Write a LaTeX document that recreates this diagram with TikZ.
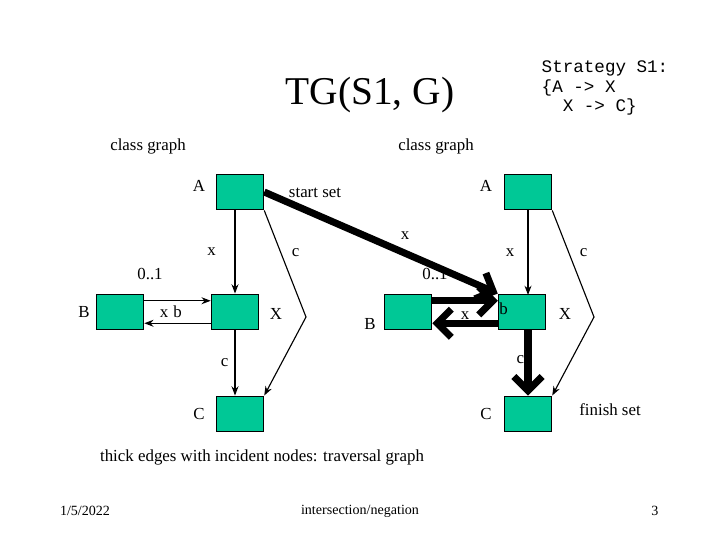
\documentclass[tikz,border=0pt]{standalone}
\usepackage{fontspec}
\setmainfont{Liberation Serif}
\newfontfamily\monofont{Liberation Mono}
\usetikzlibrary{arrows.meta}
\begin{document}
\begin{tikzpicture}[x=0.025cm, y=-0.025cm, >=Stealth, thick,
	cls node/.style={rectangle, draw, line width=1.2pt, fill=green!60!cyan!80!black!90, minimum width=1.17cm, minimum height=0.88cm, inner sep=0pt},
	lbl/.style={font=\fontsize{12}{14}\selectfont},
	fat/.style={line width=5pt, -{Straight Barb[length=10pt,width=20pt]}}]
	\useasboundingbox (0,0) rectangle (720,540);
	\definecolor{boxfill}{RGB}{0,200,150}
	\tikzset{cls node/.append style={fill=boxfill}}
	
	% Titles
	\node (title) at (370,95) {\fontsize{28}{30}\selectfont TG(S1, G)};
	\node[align=left, font=\monofont\fontsize{12.5}{14}\selectfont] (strat) at (605,88) {Strategy S1:\\\{A -> X\\\ \ X -> C\}};
	\node[lbl] (cg1) at (148,146) {class graph};
	\node[lbl] (cg2) at (436,146) {class graph};
	
	% Left class graph
	\node[cls node] (A1) at (240,192) {};
	\node[cls node] (B1) at (120,312) {};
	\node[cls node] (X1) at (235,312) {};
	\node[cls node] (C1) at (240,414) {};
	\coordinate (k1) at (306,317);
	\node[lbl] at (199,186) {A};
	\node[lbl] at (84,312) {B};
	\node[lbl] at (276,314) {X};
	\node[lbl] at (199,414) {C};
	\draw[->] (A1.south -| X1.north) -- node[lbl, left=10pt] {x} (X1.north);
	\draw[->] (A1.south east) -- node[lbl, right=4pt, pos=0.4] {c} (k1) -- (C1.north east);
	\draw[->] ([yshift=-8pt]X1.west) -- node[lbl, above] {b} ([yshift=-8pt]B1.east);
	\draw[->] ([yshift=8pt]B1.east) -- node[lbl, below=3pt, pos=0.3] {x} ([yshift=8pt]X1.west);
	\draw[->] (X1.south) -- node[lbl, left=1pt] {c} (X1.south |- C1.north);
	\node[lbl] at (150,274) {0..1};
	
	% Right class graph (traversal graph)
	\node[cls node] (A2) at (528,192) {};
	\node[cls node] (B2) at (408,312) {};
	\node[cls node] (X2) at (522,312) {};
	\node[cls node] (C2) at (528,414) {};
	\coordinate (k2) at (594,317);
	\node[lbl] at (486,186) {A};
	\node[lbl] at (370,324) {B};
	\node[lbl] at (565,314) {X};
	\node[lbl] at (486,414) {C};
	\draw[->] (A2.south -| 528,0) -- node[lbl, left=6pt] {x} (528,295);
	\draw[->] (A2.south east) -- node[lbl, right=4pt, pos=0.4] {c} (k2) -- (C2.north east);
	\draw[fat] (A1.east) -- node[lbl, above right, pos=0.55] {x} (X2.north west);
	\draw[fat] ([yshift=-8pt]X2.west) -- node[lbl, above right, pos=0.1] {b} ([yshift=-8pt]B2.east);
	\draw[fat] ([yshift=8pt]B2.east) -- node[lbl, below=2pt, pos=0.5] {x} ([yshift=8pt]X2.west);
	\draw[fat] (C2.north |- X2.south) -- node[lbl, left=-3pt, pos=0.45] {c} (C2.north);
	\node[lbl] at (435,274) {0..1};
	\node[lbl] at (315,193) {start set};
	\node[lbl] at (610,410) {finish set};
	
	% Footer
	\node[lbl] (note) at (262,457) {thick edges with incident nodes: traversal graph};
	\node[font=\fontsize{10}{12}\selectfont] (date) at (85,511) {1/5/2022};
	\node[font=\fontsize{10}{12}\selectfont] (foot) at (360,511) {intersection/negation};
	\node[font=\fontsize{10}{12}\selectfont] (page) at (655,511) {3};
\end{tikzpicture}
\end{document}
